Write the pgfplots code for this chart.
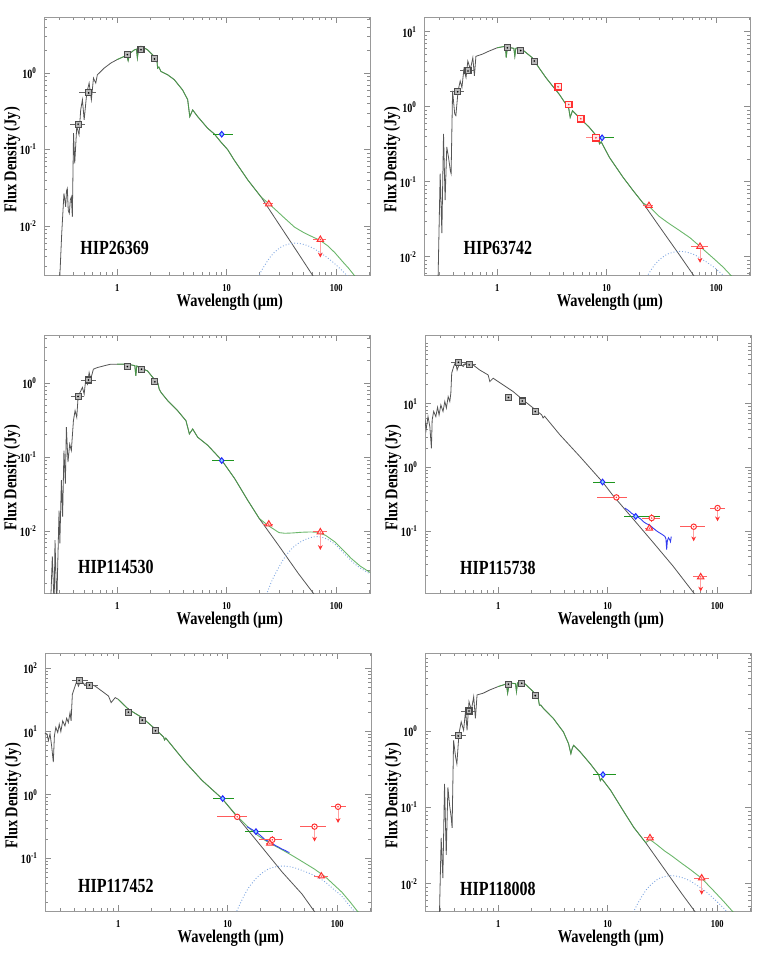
\documentclass[border=0pt]{standalone}
\usepackage{fontspec}
\setmainfont{Liberation Serif}[FakeStretch=0.8]
\usepackage{pgfplots}
\pgfplotsset{compat=1.18}
\usetikzlibrary{arrows.meta}
\definecolor{phot}{RGB}{85,85,85}
\definecolor{totg}{RGB}{70,165,70}
\definecolor{diskb}{RGB}{125,165,225}
\definecolor{irsb}{RGB}{50,60,240}
\definecolor{rd}{RGB}{255,50,50}
\definecolor{akg}{RGB}{30,150,30}

\pgfdeclareplotmark{sqk}{%
 \pgfpathrectangle{\pgfqpoint{-\pgfplotmarksize}{-\pgfplotmarksize}}{\pgfqpoint{2\pgfplotmarksize}{2\pgfplotmarksize}}%
 \pgfusepathqfillstroke
 \begin{pgfscope}\pgfsetfillcolor{black}\pgfpathcircle{\pgfpointorigin}{0.3\pgfplotmarksize}\pgfusepathqfill\end{pgfscope}}
\pgfdeclareplotmark{sqr}{%
 \pgfpathrectangle{\pgfqpoint{-\pgfplotmarksize}{-\pgfplotmarksize}}{\pgfqpoint{2\pgfplotmarksize}{2\pgfplotmarksize}}%
 \pgfusepathqfillstroke
 \begin{pgfscope}\pgfsetfillcolor{rd}\pgfpathcircle{\pgfpointorigin}{0.3\pgfplotmarksize}\pgfusepathqfill\end{pgfscope}}
\pgfdeclareplotmark{trir}{%
 \pgfpathmoveto{\pgfqpoint{0pt}{1.2\pgfplotmarksize}}%
 \pgfpathlineto{\pgfqpoint{-1.1\pgfplotmarksize}{-0.65\pgfplotmarksize}}%
 \pgfpathlineto{\pgfqpoint{1.1\pgfplotmarksize}{-0.65\pgfplotmarksize}}%
 \pgfpathclose\pgfusepathqfillstroke
 \begin{pgfscope}\pgfsetfillcolor{rd}\pgfpathcircle{\pgfpointorigin}{0.25\pgfplotmarksize}\pgfusepathqfill\end{pgfscope}}
\pgfdeclareplotmark{cirr}{%
 \pgfpathcircle{\pgfpointorigin}{\pgfplotmarksize}\pgfusepathqfillstroke
 \begin{pgfscope}\pgfsetfillcolor{rd}\pgfpathcircle{\pgfpointorigin}{0.3\pgfplotmarksize}\pgfusepathqfill\end{pgfscope}}
\pgfdeclareplotmark{diab}{%
 \pgfpathmoveto{\pgfqpoint{0pt}{\pgfplotmarksize}}%
 \pgfpathlineto{\pgfqpoint{0.8\pgfplotmarksize}{0pt}}%
 \pgfpathlineto{\pgfqpoint{0pt}{-\pgfplotmarksize}}%
 \pgfpathlineto{\pgfqpoint{-0.8\pgfplotmarksize}{0pt}}%
 \pgfpathclose\pgfusepathqfillstroke}

\newcommand\sedaxis[1]{\begin{axis}[xmode=log, ymode=log, scale only axis, width=163pt, height=129pt,
  xmin=0.215, xmax=203,
  axis line style={black!40, line width=0.4pt},
  every tick/.append style={black!45, line width=0.4pt},
  major tick length=2.8pt, minor tick length=1.5pt,
  xtick={1,10,100}, xticklabels={1,10,100},
  minor xtick={0.3,0.4,0.5,0.6,0.7,0.8,0.9,2,3,4,5,6,7,8,9,20,30,40,50,60,70,80,90,200},
  minor ytick={0.002,0.003,0.004,0.005,0.006,0.007,0.008,0.009,0.02,0.03,0.04,0.05,0.06,0.07,0.08,0.09,0.2,0.3,0.4,0.5,0.6,0.7,0.8,0.9,2,3,4,5,6,7,8,9,20,30,40,50,60,70,80,90},
  xticklabel style={font=\bfseries\fontsize{5.3}{5.5}\selectfont, yshift=-1pt},
  yticklabel style={font=\bfseries\fontsize{6.3}{6.5}\selectfont},
  xlabel={Wavelength (μm)}, ylabel={Flux Density (Jy)},
  every axis label/.append style={font=\bfseries\fontsize{9}{10}\selectfont},
  xlabel style={at={(axis description cs:0.57,-0.105)}, anchor=center},
  ylabel style={at={(axis description cs:-0.098,0.446)}, anchor=center},
  anchor=south west, #1]}
\newcommand\hiplabel[3]{\node[anchor=west, font=\bfseries\fontsize{10}{12}\selectfont] at (axis description cs:#1,#2) {#3};}

\pgfplotsset{
 phl/.style={phot, line width=0.4pt, no markers},
 tot/.style={totg, line width=0.45pt, no markers, opacity=0.8},
 disk/.style={diskb, line width=0.45pt, densely dotted, no markers, smooth},
 irs/.style={irsb, line width=0.45pt, no markers},
 ulim/.style={rd!45, line width=0.5pt, no markers, -{Stealth[length=2.4pt,width=2.4pt,color=rd]}},
 gsq/.style={only marks, mark=sqk, mark size=1.5pt,
  mark options={draw=black!70, fill=black!28, line width=0.55pt, solid},
  error bars/x dir=both, error bars/x explicit, error bars/y dir=both, error bars/y explicit,
  error bars/error mark=none, error bars/error bar style={black!60, line width=0.45pt}},
 rsq/.style={only marks, mark=sqr, mark size=1.6pt,
  mark options={draw=rd, fill=rd!12, line width=0.6pt, solid},
  error bars/x dir=both, error bars/x explicit,
  error bars/error mark=none, error bars/error bar style={rd!60, line width=0.45pt}},
 aka/.style={only marks, mark=diab, mark size=1.4pt,
  mark options={draw=blue!85, fill=cyan!45, line width=0.5pt, solid},
  error bars/x dir=both, error bars/x explicit,
  error bars/error mark=none, error bars/error bar style={akg, line width=0.5pt}},
 mips/.style={only marks, mark=trir, mark size=1.45pt,
  mark options={draw=rd, fill=rd!12, line width=0.5pt, solid},
  error bars/x dir=both, error bars/x explicit, error bars/y dir=both, error bars/y explicit,
  error bars/error mark=none, error bars/error bar style={rd!75, line width=0.5pt}},
 iras/.style={only marks, mark=cirr, mark size=1.35pt,
  mark options={draw=rd, fill=white, line width=0.5pt, solid},
  error bars/x dir=both, error bars/x explicit, error bars/y dir=both, error bars/y explicit,
  error bars/error mark=none, error bars/error bar style={rd!80, line width=0.5pt}},
}

\begin{document}
\begin{tikzpicture}
\useasboundingbox (-22pt,-339.5pt) rectangle (359.5pt,137.5pt);

% ---------------- Panel 1: HIP26369
\sedaxis{at={(0pt,0pt)}, ymin=0.0023, ymax=5.4,
 ytick={0.01,0.1,1}, yticklabels={10\textsuperscript{-2},10\textsuperscript{-1},10\textsuperscript{0}}}
\addplot[phl] coordinates {(0.29,0.001) (0.301,0.0025) (0.312,0.008) (0.327,0.0268) (0.339,0.0179) (0.345,0.029) (0.351,0.0311) (0.358,0.016) (0.366,0.0147) (0.374,0.022) (0.382,0.0242) (0.39,0.0132) (0.40,0.164) (0.41,0.0662) (0.428,0.2) (0.449,0.156) (0.465,0.331) (0.482,0.448) (0.50,0.245) (0.528,0.547) (0.555,0.74) (0.582,0.448) (0.608,0.86) (0.638,0.74) (0.66,0.95) (0.71,1.05) (0.76,1.16) (0.875,1.35) (1.0,1.5) (1.16,1.65) (1.22,1.72) (1.26,1.45) (1.3,1.8) (1.43,2.0) (1.5,2.05) (1.53,1.57) (1.57,2.1) (1.65,2.24) (1.89,2.02) (2.18,1.65) (2.3,1.55) (2.34,1.16) (2.4,1.2) (2.51,1.05) (2.89,0.95) (3.32,0.82) (3.96,0.60) (4.4,0.45) (4.6,0.27) (4.7,0.29) (4.89,0.33) (5.43,0.27) (6.7,0.19) (7.71,0.16) (8.87,0.125) (10.2,0.10) (11.7,0.073) (15.6,0.040) (20.6,0.024) (30,0.0106) (45,0.0044) (66,0.0019)};
\addplot[tot] coordinates {(1.0,1.5) (1.16,1.65) (1.22,1.72) (1.26,1.45) (1.3,1.8) (1.43,2.0) (1.5,2.05) (1.53,1.57) (1.57,2.1) (1.65,2.24) (1.89,2.02) (2.18,1.65) (2.3,1.55) (2.34,1.16) (2.4,1.2) (2.51,1.05) (2.89,0.95) (3.32,0.82) (3.96,0.60) (4.4,0.45) (4.6,0.27) (4.7,0.29) (4.89,0.33) (5.43,0.27) (6.7,0.19) (7.71,0.16) (8.87,0.125) (10.2,0.10) (11.7,0.073) (15.6,0.040) (20.6,0.024) (24.2,0.0197) (28,0.0163) (33,0.0131) (41.6,0.0097) (50,0.0083) (60,0.0073) (71.5,0.0065) (84,0.0055) (97,0.0045) (115,0.0034) (130,0.0028) (145,0.0023) (160,0.0019)};
\addplot[disk] coordinates {(18.9,0.00198) (21,0.0027) (25.2,0.00403) (29.4,0.005) (33.6,0.00561) (42,0.006) (52.5,0.00568) (63,0.00505) (84,0.00382) (105,0.0029) (126,0.00225) (168,0.00145)};
\addplot[ulim] coordinates {(71.5,0.0067) (71.5,0.0039)};
\addplot[gsq] table[row sep=\\, x error minus=xm, x error plus=xp, y error minus=ym, y error plus=yp] {x y xm xp ym yp\\ 0.44 0.215 0.068 0.066 0 0\\ 0.55 0.55 0.10 0.09 0 0\\ 1.24 1.74 0 0 0 0\\ 1.65 2.02 0 0 0 0\\ 2.19 1.53 0 0 0 0\\};
\addplot[aka] table[row sep=\\, x error minus=xm, x error plus=xp] {x y xm xp\\ 9.0 0.159 1.55 2.5\\};
\addplot[mips] table[row sep=\\, x error minus=xm, x error plus=xp, y error minus=ym, y error plus=yp] {x y xm xp ym yp\\ 24.2 0.0195 2.9 2.1 0 0\\ 71.5 0.0067 10.5 9.5 0 0\\};
\hiplabel{0.09}{0.105}{HIP26369}
\end{axis}

% ---------------- Panel 2: HIP63742
\sedaxis{at={(190pt,0pt)}, ymin=0.0057, ymax=15.7,
 ytick={0.01,0.1,1,10}, yticklabels={10\textsuperscript{-2},10\textsuperscript{-1},10\textsuperscript{0},10\textsuperscript{1}}}
\addplot[phl] coordinates {(0.288,0.004) (0.302,0.128) (0.313,0.0206) (0.324,0.435) (0.335,0.057) (0.347,0.29) (0.36,0.21) (0.374,0.14) (0.38,0.128) (0.392,1.63) (0.41,0.80) (0.42,0.76) (0.44,1.63) (0.46,2.2) (0.477,1.8) (0.497,3.15) (0.52,2.45) (0.54,4.06) (0.57,3.15) (0.60,4.5) (0.62,2.57) (0.64,4.7) (0.73,5.0) (0.84,5.5) (1.0,6.1) (1.19,6.4) (1.21,4.5) (1.24,6.3) (1.33,6.1) (1.42,6.0) (1.45,4.7) (1.48,6.0) (1.53,6.1) (1.69,5.8) (2.09,4.5) (2.41,3.3) (2.78,2.45) (3.19,1.9) (3.68,1.47) (4.24,1.08) (4.5,0.95) (4.64,0.72) (4.87,0.885) (5.6,0.72) (6.94,0.53) (8.27,0.39) (8.6,0.32) (8.9,0.34) (10.6,0.21) (14.0,0.116) (17.3,0.077) (21.4,0.052) (30,0.0257) (46,0.0106) (69,0.0045) (92,0.0025)};
\addplot[tot] coordinates {(1.0,6.1) (1.19,6.4) (1.21,4.5) (1.24,6.3) (1.33,6.1) (1.42,6.0) (1.45,4.7) (1.48,6.0) (1.53,6.1) (1.69,5.8) (2.09,4.5) (2.41,3.3) (2.78,2.45) (3.19,1.9) (3.68,1.47) (4.24,1.08) (4.5,0.95) (4.64,0.72) (4.87,0.885) (5.6,0.72) (6.94,0.53) (8.27,0.39) (8.6,0.32) (8.9,0.34) (10.6,0.21) (14.0,0.116) (17.3,0.077) (21.4,0.052) (24.3,0.047) (30,0.0346) (36,0.0285) (46,0.0224) (57.5,0.0179) (69,0.0142) (92,0.0098) (115,0.0073) (138,0.0055) (160,0.0043)};
\addplot[disk] coordinates {(20.7,0.0039) (23,0.0053) (27.6,0.0079) (32.2,0.0098) (36.8,0.011) (46,0.0118) (57.5,0.0112) (69,0.0099) (92,0.0075) (115,0.0057) (138,0.0044) (161,0.0035)};
\addplot[ulim] coordinates {(71,0.0137) (71,0.0083)};
\addplot[gsq] table[row sep=\\, x error minus=xm, x error plus=xp, y error minus=ym, y error plus=yp] {x y xm xp ym yp\\ 0.436 1.58 0.063 0.059 0 0\\ 0.542 3.0 0.087 0.091 0 0\\ 1.24 6.1 0 0 0 0\\ 1.64 5.6 0 0 0 0\\ 2.18 4.06 0 0 0 0\\};
\addplot[rsq] table[row sep=\\, x error minus=xm, x error plus=xp] {x y xm xp\\ 3.6 1.84 0.3 0.34\\ 4.5 1.07 0.26 0.37\\ 5.8 0.69 0.4 0.4\\ 7.97 0.385 1.52 1.88\\};
\addplot[aka] table[row sep=\\, x error minus=xm, x error plus=xp] {x y xm xp\\ 9.07 0.385 1.62 2.63\\};
\addplot[mips] table[row sep=\\, x error minus=xm, x error plus=xp, y error minus=ym, y error plus=yp] {x y xm xp ym yp\\ 24.3 0.048 2.8 2.2 0 0\\ 71 0.0137 12 13 0 0\\};
\hiplabel{0.1}{0.105}{HIP63742}
\end{axis}

% ---------------- Panel 3: HIP114530
\sedaxis{at={(0pt,-159pt)}, ymin=0.00147, ymax=4.45,
 ytick={0.01,0.1,1}, yticklabels={10\textsuperscript{-2},10\textsuperscript{-1},10\textsuperscript{0}}}
\addplot[phl] coordinates {(0.247,0.001) (0.256,0.0046) (0.266,0.001) (0.271,0.0076) (0.281,0.001) (0.295,0.019) (0.30,0.0069) (0.31,0.049) (0.318,0.0158) (0.327,0.123) (0.337,0.044) (0.344,0.254) (0.356,0.086) (0.369,0.15) (0.382,0.123) (0.399,0.31) (0.413,0.425) (0.428,0.346) (0.44,0.64) (0.459,0.75) (0.482,0.875) (0.50,0.71) (0.517,1.13) (0.536,0.97) (0.555,1.39) (0.574,1.13) (0.607,1.54) (0.66,1.62) (0.76,1.71) (0.875,1.8) (1.0,1.8) (1.24,1.8) (1.45,1.72) (1.48,1.25) (1.51,1.7) (1.65,1.59) (1.89,1.46) (2.18,1.13) (2.35,1.0) (2.42,0.83) (2.51,0.75) (2.89,0.58) (3.56,0.425) (4.25,0.31) (4.56,0.206) (4.89,0.24) (5.43,0.186) (6.7,0.145) (9.0,0.091) (11.8,0.0516) (15.6,0.026) (19.8,0.0149) (30,0.00633) (45,0.0027) (65,0.00132)};
\addplot[tot] coordinates {(1.0,1.8) (1.24,1.8) (1.45,1.72) (1.48,1.25) (1.51,1.7) (1.65,1.59) (1.89,1.46) (2.18,1.13) (2.35,1.0) (2.42,0.83) (2.51,0.75) (2.89,0.58) (3.56,0.425) (4.25,0.31) (4.56,0.206) (4.89,0.24) (5.43,0.186) (6.7,0.145) (9.0,0.091) (11.8,0.0516) (15.6,0.026) (19.8,0.0149) (24.2,0.0118) (30,0.0096) (34,0.0094) (40,0.0095) (48,0.0097) (58,0.0098) (68,0.0097) (80,0.0088) (97,0.0072) (115,0.0056) (137,0.0043) (165,0.0034) (210,0.0027)};
\addplot[disk] coordinates {(21,0.0011) (23,0.0014) (26,0.0022) (30,0.0033) (34,0.0045) (40,0.006) (48,0.0073) (58,0.0082) (68,0.0085) (80,0.0080) (97,0.0067) (115,0.0052) (137,0.0040) (165,0.0032) (210,0.0026)};
\addplot[ulim] coordinates {(71.5,0.0098) (71.5,0.0056)};
\addplot[gsq] table[row sep=\\, x error minus=xm, x error plus=xp, y error minus=ym, y error plus=yp] {x y xm xp ym yp\\ 0.44 0.66 0.063 0.06 0 0\\ 0.547 1.1 0.081 0.093 0 0\\ 1.24 1.67 0 0 0 0\\ 1.67 1.54 0 0 0 0\\ 2.21 1.04 0 0 0 0\\};
\addplot[aka] table[row sep=\\, x error minus=xm, x error plus=xp] {x y xm xp\\ 9.0 0.09 1.7 2.6\\};
\addplot[mips] table[row sep=\\, x error minus=xm, x error plus=xp, y error minus=ym, y error plus=yp] {x y xm xp ym yp\\ 24.2 0.0125 2.9 2.1 0 0\\ 71.5 0.0098 10.5 11.5 0 0\\};
\hiplabel{0.083}{0.1}{HIP114530}
\end{axis}

% ---------------- Panel 4: HIP115738
\sedaxis{at={(190.5pt,-159pt)}, ymin=0.0106, ymax=121,
 ytick={0.1,1,10}, yticklabels={10\textsuperscript{-1},10\textsuperscript{0},10\textsuperscript{1}}}
\addplot[phl] coordinates {(0.21,5.6) (0.215,5.6) (0.22,3.9) (0.229,6.3) (0.238,4.4) (0.246,2.0) (0.25,5.6) (0.258,7.6) (0.27,6.3) (0.28,8.85) (0.289,6.7) (0.30,9.6) (0.314,7.6) (0.326,10.9) (0.337,8.6) (0.35,13.0) (0.362,10.9) (0.37,14.7) (0.377,30.4) (0.393,38.6) (0.41,46) (0.422,34) (0.446,44.6) (0.48,38.6) (0.506,44.6) (0.59,41) (0.68,34) (0.81,28.5) (0.84,22.4) (0.90,25.3) (1.11,19.9) (1.37,15.6) (1.69,11.5) (2.09,8.6) (2.5,6.7) (2.57,6.0) (2.65,6.4) (3.66,3.26) (5.56,1.49) (8.97,0.59) (11.2,0.36) (17.1,0.154) (26,0.066) (39.5,0.028) (61,0.0106) (70,0.008)};
\addplot[irs] coordinates {(14.3,0.23) (15.5,0.21) (16.5,0.19) (18.4,0.17) (20,0.155) (21.2,0.14) (22.6,0.13) (24,0.125) (26,0.111) (28,0.10) (29.9,0.093) (31.5,0.088) (33.3,0.082) (34,0.075) (34.5,0.051) (35,0.07) (35.8,0.0785) (36.8,0.073) (37.4,0.068) (38,0.082)};
\addplot[ulim] coordinates {(60.9,0.117) (60.9,0.069)};
\addplot[ulim] coordinates {(100.5,0.23) (100.5,0.142)};
\addplot[ulim] coordinates {(70.5,0.019) (70.5,0.0112)};
\addplot[gsq] table[row sep=\\, x error minus=xm, x error plus=xp, y error minus=ym, y error plus=yp] {x y xm xp ym yp\\ 0.434 45 0.064 0.076 0 0\\ 0.544 41 0.064 0.086 0 0\\ 1.24 12.6 0 0 1.5 1.5\\ 1.66 11.1 0 0 0 0\\ 2.18 7.6 0 0 0 0\\};
\addplot[aka] table[row sep=\\, x error minus=xm, x error plus=xp] {x y xm xp\\ 8.97 0.59 1.67 2.63\\ 18.0 0.17 3.9 11.9\\};
\addplot[iras] table[row sep=\\, x error minus=xm, x error plus=xp, y error minus=ym, y error plus=yp] {x y xm xp ym yp\\ 12.0 0.338 4.1 2.9 0 0\\ 25.2 0.16 4.8 4.7 0.02 0.025\\ 60.9 0.117 15.4 16.1 0 0\\ 100.5 0.23 15.5 16.5 0 0\\};
\addplot[mips] table[row sep=\\, x error minus=xm, x error plus=xp, y error minus=ym, y error plus=yp] {x y xm xp ym yp\\ 24 0.111 2 2 0 0\\ 70.5 0.019 10.5 9.5 0 0\\};
\hiplabel{0.086}{0.097}{HIP115738}
\end{axis}

% ---------------- Panel 5: HIP117452
\sedaxis{at={(0.5pt,-318pt)}, ymin=0.0146, ymax=175,
 ytick={0.1,1,10,100}, yticklabels={10\textsuperscript{-1},10\textsuperscript{0},10\textsuperscript{1},10\textsuperscript{2}}}
\addplot[phl] coordinates {(0.21,9.5) (0.224,9.2) (0.231,7.2) (0.239,9.2) (0.247,6.0) (0.256,3.3) (0.262,8.6) (0.27,11.7) (0.281,9.7) (0.29,13.1) (0.30,10) (0.312,14.8) (0.327,12.3) (0.339,16.3) (0.351,13.9) (0.364,20) (0.372,14.8) (0.382,38.7) (0.40,49.4) (0.419,63) (0.434,52.4) (0.459,66.5) (0.49,55.5) (0.528,59) (0.616,52.4) (0.71,43.8) (0.816,36.6) (0.863,28.8) (0.94,34.5) (1.0,32.5) (1.24,22.6) (1.65,16.7) (2.18,11) (2.6,8.2) (2.65,7.4) (2.72,7.9) (4.1,3.3) (5.82,1.7) (8.88,0.876) (11.7,0.49) (15.5,0.27) (20.6,0.148) (31.3,0.0606) (47.7,0.027) (61,0.0148) (70,0.011)};
\addplot[tot] coordinates {(1.0,32.5) (1.24,22.6) (1.65,16.7) (2.18,11) (2.6,8.2) (2.65,7.4) (2.72,7.9) (4.1,3.3) (5.82,1.7) (8.88,0.876) (12,0.475) (15.5,0.303) (18.6,0.232) (21.7,0.193) (24.8,0.169) (31,0.137) (38.8,0.110) (46.5,0.091) (62,0.067) (77.5,0.051) (93,0.038) (110,0.029) (130,0.0206) (152,0.0146) (170,0.012)};
\addplot[disk] coordinates {(11.5,0.012) (12.4,0.016) (13.5,0.022) (15.5,0.034) (18.6,0.050) (21.7,0.062) (24.8,0.070) (31,0.075) (38.8,0.072) (46.5,0.065) (62,0.053) (77.5,0.042) (93,0.032) (110,0.025) (130,0.0175) (155,0.0125)};
\addplot[irs] coordinates {(15,0.315) (16,0.295) (17.9,0.263) (19.5,0.235) (22,0.195) (23.5,0.185) (25.4,0.172) (27,0.16) (29.2,0.149) (31,0.14) (33.6,0.132) (35,0.126) (36.6,0.123)};
\addplot[ulim] coordinates {(62,0.315) (62,0.183)};
\addplot[ulim] coordinates {(101.5,0.65) (101.5,0.36)};
\addplot[gsq] table[row sep=\\, x error minus=xm, x error plus=xp, y error minus=ym, y error plus=yp] {x y xm xp ym yp\\ 0.44 64.5 0.063 0.088 0 0\\ 0.547 54.5 0.057 0.113 0 0\\ 1.24 20.3 0 0 2.5 3\\ 1.66 15.2 0 0 0 0\\ 2.19 10.3 0 0 0 0\\};
\addplot[aka] table[row sep=\\, x error minus=xm, x error plus=xp] {x y xm xp\\ 9.0 0.876 1.66 2.5\\ 18.1 0.263 3.8 7.7\\};
\addplot[iras] table[row sep=\\, x error minus=xm, x error plus=xp, y error minus=ym, y error plus=yp] {x y xm xp ym yp\\ 12.2 0.45 4.2 2.8 0 0\\ 25.5 0.195 6.3 5.9 0.02 0.025\\ 62 0.315 16 16.4 0 0\\ 101.5 0.65 14.5 17.5 0 0\\};
\addplot[mips] table[row sep=\\, x error minus=xm, x error plus=xp, y error minus=ym, y error plus=yp] {x y xm xp ym yp\\ 24.2 0.172 2 2 0 0\\ 71.5 0.052 10.5 11.5 0 0\\};
\hiplabel{0.08}{0.097}{HIP117452}
\end{axis}

% ---------------- Panel 6: HIP118008
\sedaxis{at={(190.5pt,-318pt)}, ymin=0.0044, ymax=10.6,
 ytick={0.01,0.1,1}, yticklabels={10\textsuperscript{-2},10\textsuperscript{-1},10\textsuperscript{0}}}
\addplot[phl] coordinates {(0.29,0.003) (0.302,0.040) (0.313,0.0119) (0.324,0.204) (0.336,0.024) (0.348,0.184) (0.36,0.109) (0.373,0.074) (0.38,0.054) (0.392,0.76) (0.409,0.458) (0.42,0.374) (0.439,0.93) (0.46,1.33) (0.484,1.03) (0.505,1.89) (0.52,1.03) (0.542,2.44) (0.57,1.89) (0.598,2.84) (0.62,1.47) (0.642,2.99) (0.73,3.15) (0.839,3.48) (1.0,3.85) (1.19,4.17) (1.22,3.15) (1.26,4.2) (1.33,4.26) (1.44,4.2) (1.47,3.3) (1.5,4.3) (1.56,4.35) (1.76,4.17) (2.09,3.3) (2.3,2.9) (2.38,2.2) (2.45,2.2) (2.59,1.99) (3.19,1.47) (3.94,0.98) (4.39,0.687) (4.61,0.507) (4.75,0.6) (4.88,0.653) (5.62,0.533) (6.93,0.374) (8.26,0.27) (8.56,0.225) (8.8,0.24) (10.6,0.169) (14.0,0.0886) (17.3,0.0548) (22.2,0.0346) (33,0.0155) (47.5,0.0074) (62,0.0044) (72,0.0032)};
\addplot[tot] coordinates {(1.0,3.85) (1.19,4.17) (1.22,3.15) (1.26,4.2) (1.33,4.26) (1.44,4.2) (1.47,3.3) (1.5,4.3) (1.56,4.35) (1.76,4.17) (2.09,3.3) (2.3,2.9) (2.38,2.2) (2.45,2.2) (2.59,1.99) (3.19,1.47) (3.94,0.98) (4.39,0.687) (4.61,0.507) (4.75,0.6) (4.88,0.653) (5.62,0.533) (6.93,0.374) (8.26,0.27) (8.56,0.225) (8.8,0.24) (10.6,0.169) (14.0,0.0886) (17.3,0.0548) (22.2,0.0346) (24.3,0.038) (28,0.0327) (33,0.027) (38,0.0235) (47.5,0.0185) (57,0.0153) (72,0.0118) (95,0.0078) (114,0.0059) (133,0.0046) (150,0.0038)};
\addplot[disk] coordinates {(17.1,0.0042) (19,0.0057) (22.8,0.0086) (26.6,0.0106) (30.4,0.012) (38,0.0128) (47.5,0.0121) (57,0.0108) (76,0.0082) (95,0.0062) (114,0.0048) (133,0.0038) (160,0.003)};
\addplot[ulim] coordinates {(72,0.0119) (72,0.0072)};
\addplot[gsq] table[row sep=\\, x error minus=xm, x error plus=xp, y error minus=ym, y error plus=yp] {x y xm xp ym yp\\ 0.432 0.868 0.064 0.073 0 0\\ 0.542 1.84 0.082 0.091 0 0\\ 1.24 4.14 0 0 0 0\\ 1.64 4.26 0 0 0 0\\ 2.18 2.93 0 0 0 0\\};
\addplot[aka] table[row sep=\\, x error minus=xm, x error plus=xp] {x y xm xp\\ 9.05 0.27 1.7 2.75\\};
\addplot[mips] table[row sep=\\, x error minus=xm, x error plus=xp, y error minus=ym, y error plus=yp] {x y xm xp ym yp\\ 24.3 0.040 3 2.1 0 0\\ 72 0.0119 10.4 12.2 0 0\\};
\hiplabel{0.086}{0.086}{HIP118008}
\end{axis}
\end{tikzpicture}
\end{document}
